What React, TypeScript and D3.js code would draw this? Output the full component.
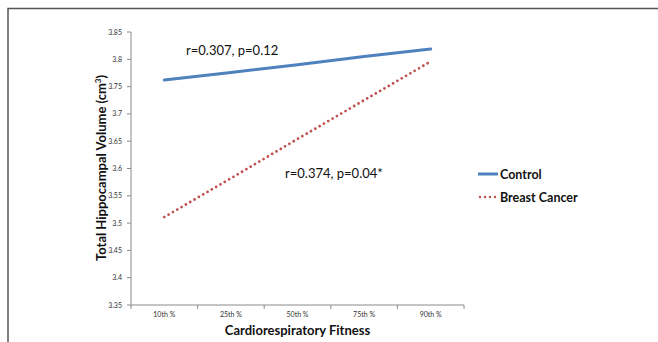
import React from 'react';
import * as d3 from 'd3';

const categories = ['10th %', '25th %', '50th %', '75th %', '90th %'];
const controlValues = [3.762, 3.776, 3.790, 3.805, 3.819];
const cancerValues = [3.511, 3.582, 3.654, 3.725, 3.796];
const yTicks = [3.35, 3.4, 3.45, 3.5, 3.55, 3.6, 3.65, 3.7, 3.75, 3.8, 3.85];

const W = 658;
const H = 342;
const left = 131;
const right = 464;
const top = 32;
const bottom = 305;

const font = 'Lato, "Open Sans", "Liberation Sans", sans-serif';
const axisColor = '#8a8a8a';
const blue = '#4f81bd';
const red = '#c0504d';

const App = () => {
    const x = d3.scaleBand<string>().domain(categories).range([left, right]);
    const y = d3.scaleLinear().domain([3.35, 3.85]).range([bottom, top]);
    const cx = (c: string) => (x(c) as number) + x.bandwidth() / 2;

    const line = d3.line<number>()
        .x((_, i) => cx(categories[i]))
        .y(d => y(d));

    const edges = [...categories.map(c => x(c) as number), right];

    return (
        <svg width={W} height={H} style={{ position: 'absolute', left: 0, top: 0, background: '#fff' }}>
            <rect x={8} y={8.5} width={W} height={H} fill="#fff" stroke="#555" strokeWidth={1.5} />

            {/* y axis */}
            <line x1={left} x2={left} y1={top} y2={bottom} stroke={axisColor} strokeWidth={1} />
            {yTicks.map(t => (
                <g key={t}>
                    <line x1={left - 4} x2={left} y1={y(t)} y2={y(t)} stroke={axisColor} />
                    <text x={left - 9} y={y(t) + 2.5} textAnchor="end" fontSize={7} fontFamily={font} fill="#333">
                        {String(t)}
                    </text>
                </g>
            ))}

            {/* x axis */}
            <line x1={left} x2={right} y1={bottom} y2={bottom} stroke={axisColor} strokeWidth={1} />
            {edges.map((e, i) => (
                <line key={i} x1={e} x2={e} y1={bottom} y2={bottom + 4} stroke={axisColor} />
            ))}
            {categories.map(c => (
                <text key={c} x={cx(c)} y={bottom + 12} textAnchor="middle" fontSize={7} fontFamily={font} fill="#333">{c}</text>
            ))}

            {/* series */}
            <path d={line(controlValues) || ''} fill="none" stroke={blue} strokeWidth={3} strokeLinecap="round" />
            <path d={line(cancerValues) || ''} fill="none" stroke={red} strokeWidth={2.8} strokeDasharray="0 5" strokeLinecap="round" />

            {/* annotations */}
            <text x={186} y={55} fontSize={13} fontFamily={font} fill="#111">r=0.307, p=0.12</text>
            <text x={285} y={178} fontSize={13} fontFamily={font} fill="#111">r=0.374, p=0.04*</text>

            {/* legend */}
            <line x1={478} x2={498} y1={174} y2={174} stroke={blue} strokeWidth={3} />
            <text x={500} y={179} fontSize={12.5} fontWeight="bold" fontFamily={font} fill="#111">Control</text>
            <line x1={480} x2={498} y1={197} y2={197} stroke={red} strokeWidth={2.4} strokeDasharray="0 5" strokeLinecap="round" />
            <text x={500} y={202} fontSize={12.5} fontWeight="bold" fontFamily={font} fill="#111">Breast Cancer</text>

            {/* axis titles */}
            <text transform={`translate(106,168) rotate(-90)`} textAnchor="middle" fontSize={13} fontWeight="bold" fontFamily={font} fill="#111">
                Total Hippocampal Volume (cm<tspan dy={-5} fontSize={8}>3</tspan><tspan dy={5}>)</tspan>
            </text>
            <text x={(left + right) / 2} y={335} textAnchor="middle" fontSize={13} fontWeight="bold" fontFamily={font} fill="#111">Cardiorespiratory Fitness</text>
        </svg>
    );
};

export default App;
